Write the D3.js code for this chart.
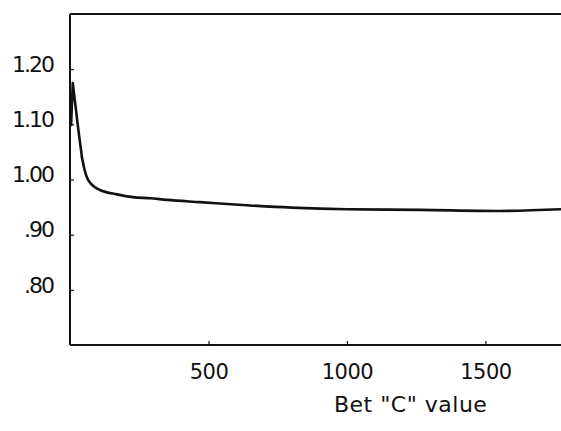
<!DOCTYPE html>
<html><head><meta charset="utf-8">
<script src="https://cdn.jsdelivr.net/npm/d3@7"></script>
<style>body{margin:0;background:#fff}svg{display:block}text{font-family:"DejaVu Sans",sans-serif;fill:#111}</style>
</head><body>
<script>
const betC = [4, 10, 29, 43, 54, 61, 76, 90, 108, 170, 227, 290, 350, 470, 650, 800, 1000, 1265, 1550, 1775];
const ratio = [1.099, 1.175, 1.095, 1.041, 1.015, 1.004, 0.992, 0.986, 0.981, 0.973, 0.968, 0.966, 0.963, 0.959, 0.953, 0.949, 0.946, 0.945, 0.943, 0.946];
const xTicks = [500, 1000, 1500];
const xTickLabels = ["500", "1000", "1500"];
const yTicks = [1.20, 1.10, 1.00, 0.90, 0.80];
const yTickLabels = ["1.20", "1.10", "1.00", ".90", ".80"];
const xTitle = 'Bet "C" value';

const W = 561, H = 431;
const x = d3.scaleLinear().domain([0, 1800]).range([70, 568.5]);
const y = d3.scaleLinear().domain([0.70, 1.30]).range([345, 14]);

const svg = d3.select("body").append("svg").attr("width", W).attr("height", H);

svg.append("line").attr("x1", x(0)).attr("x2", x(1800)).attr("y1", y(1.30)).attr("y2", y(1.30)).attr("stroke", "#111").attr("stroke-width", 2);

const xAxis = d3.axisBottom(x).tickValues(xTicks).tickSize(-4).tickFormat((d, i) => xTickLabels[i]).tickPadding(19);
const gx = svg.append("g").attr("transform", `translate(0,${y(0.70)})`).call(xAxis);
gx.select(".domain").attr("stroke", "#111").attr("stroke-width", 2).attr("d", `M${x(0)},0H${x(1800)}`);
gx.selectAll(".tick line").attr("stroke", "#111").attr("stroke-width", 1.2);
gx.selectAll(".tick text").attr("font-size", 21).attr("letter-spacing", -0.5).attr("fill", "#111").attr("font-family", "DejaVu Sans");

const yAxis = d3.axisLeft(y).tickValues(yTicks).tickSize(-4).tickFormat((d, i) => yTickLabels[i]).tickPadding(17);
const gy = svg.append("g").attr("transform", `translate(${x(0)},0)`).call(yAxis);
gy.select(".domain").attr("stroke", "#111").attr("stroke-width", 2).attr("d", `M0,${y(0.70)}V${y(1.30)}`);
gy.selectAll(".tick line").attr("stroke", "#111").attr("stroke-width", 1.2);
gy.selectAll(".tick text").attr("font-size", 22).attr("letter-spacing", -2).attr("dy", "0.1em").attr("fill", "#111").attr("font-family", "DejaVu Sans");

svg.append("text").attr("x", x(1230)).attr("y", 412).attr("text-anchor", "middle")
  .attr("font-size", 22).attr("letter-spacing", 0.5).text(xTitle);

const pts = betC.map((c, i) => [c, ratio[i]]);
const spikeLine = d3.line().x(d => x(d[0])).y(d => y(d[1])).curve(d3.curveLinear);
const tailLine = d3.line().x(d => x(d[0])).y(d => y(d[1])).curve(d3.curveMonotoneX);
const spikeEnd = 3;
svg.append("path").datum(pts.slice(0, spikeEnd + 1)).attr("d", spikeLine).attr("fill", "none").attr("stroke", "#111").attr("stroke-width", 2.6).attr("stroke-linejoin", "round").attr("stroke-linecap", "round");
svg.append("path").datum(pts.slice(spikeEnd)).attr("d", tailLine).attr("fill", "none").attr("stroke", "#111").attr("stroke-width", 2.6).attr("stroke-linejoin", "round").attr("stroke-linecap", "round");
</script>
</body></html>
